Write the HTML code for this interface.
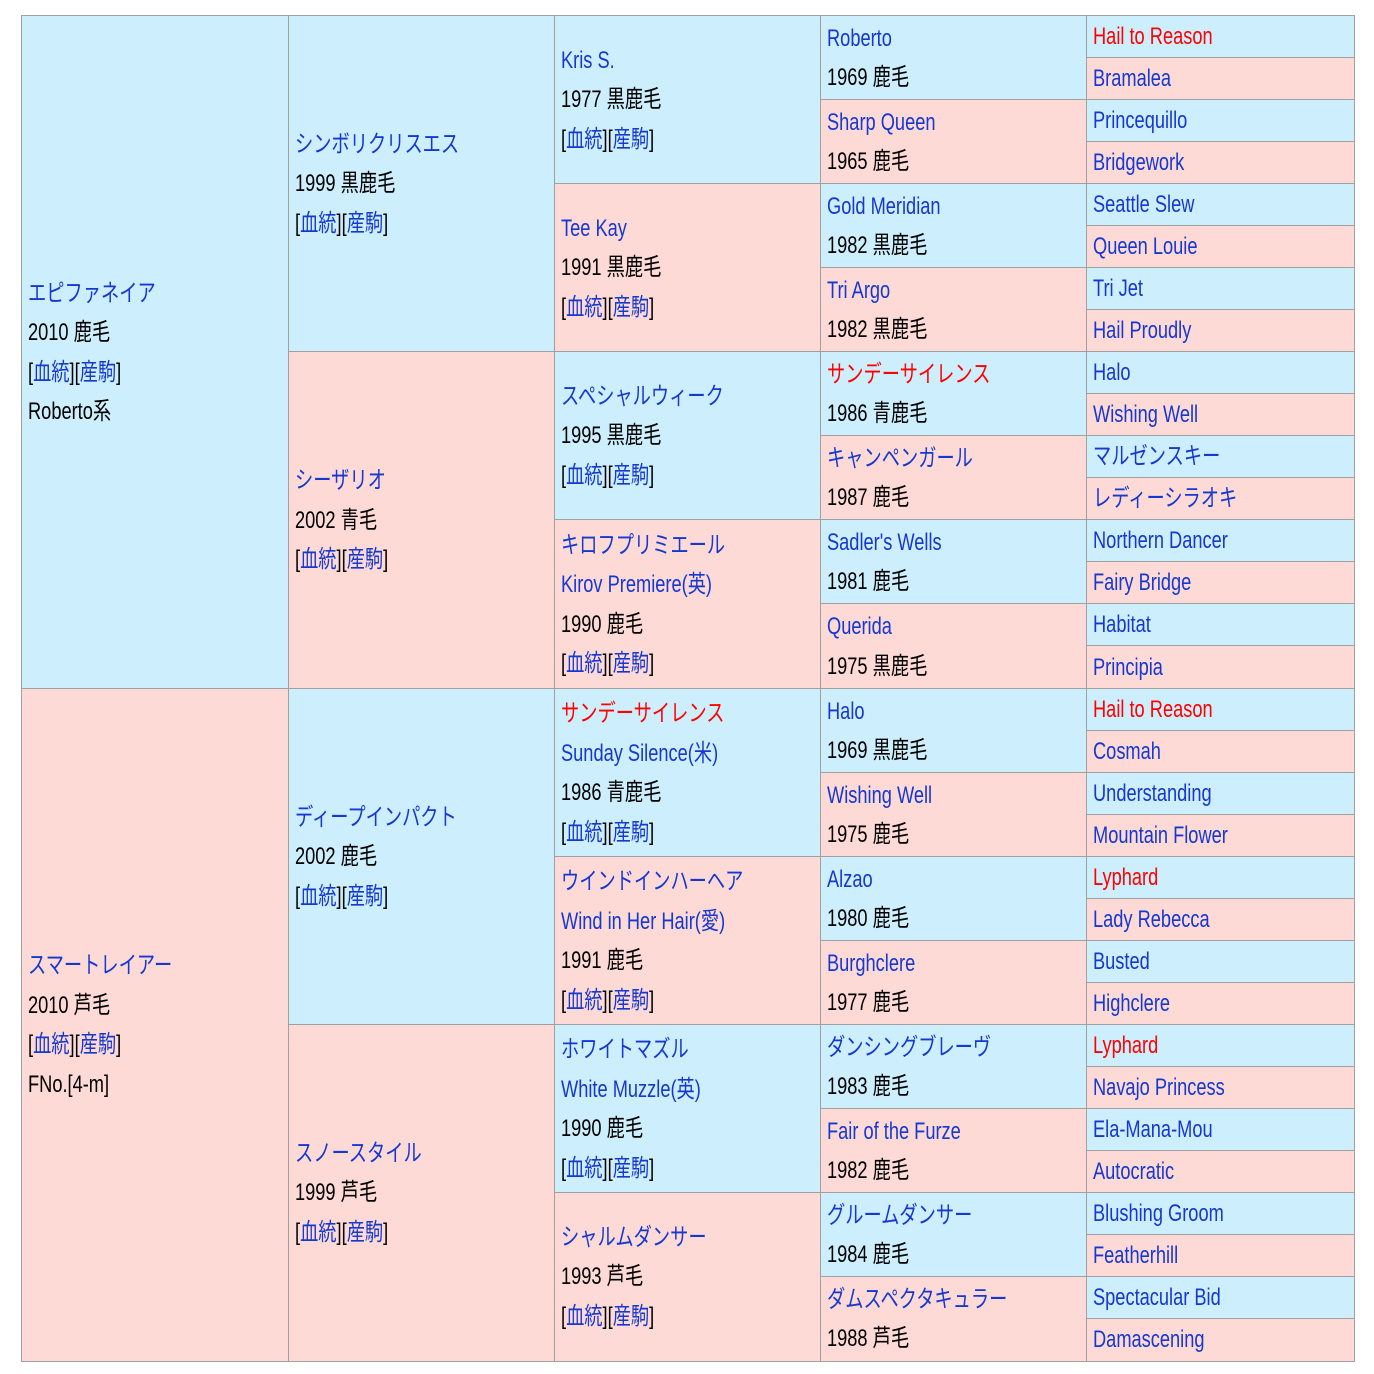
<!DOCTYPE html>
<html><head><meta charset="utf-8">
<style>
html,body{margin:0;padding:0;background:#fff;width:1374px;height:1374px;overflow:hidden}
.c{position:absolute;box-sizing:border-box;border:1px solid #a0a0a0;display:flex;flex-direction:column;justify-content:center;padding-left:6px;overflow:hidden}
.b{background:#cdeefd}.p{background:#fddad6}
.t{font-family:"Liberation Sans","Noto Sans CJK JP",sans-serif;font-size:24px;line-height:39.5px;color:#000;white-space:nowrap;transform:scaleX(0.76);transform-origin:left center}
.l{color:#1538d0}.r{color:#f00}
</style></head><body>
<div id="root"></div>
<script>
const X=[22,289,555,821,1087,1354];
const Y0=16,RH=(1361-16)/32;
const S='@';
function lines(arr){return arr.map(s=>{
 if(s==='@')return '[<span class="l">血統</span>][<span class="l">産駒</span>]';
 if(s[0]==='!')return '<span class="r">'+s.slice(1)+'</span>';
 if(s[0]==='*')return '<span class="l">'+s.slice(1)+'</span>';
 return s;}).map(h=>'<div class="t">'+h+'</div>').join('');}
const cols=[
 [['b',['*エピファネイア','2010 鹿毛',S,'Roberto系']],['p',['*スマートレイアー','2010 芦毛',S,'FNo.[4-m]']]],
 [['b',['*シンボリクリスエス','1999 黒鹿毛',S]],['p',['*シーザリオ','2002 青毛',S]],['b',['*ディープインパクト','2002 鹿毛',S]],['p',['*スノースタイル','1999 芦毛',S]]],
 [['b',['*Kris S.','1977 黒鹿毛',S]],['p',['*Tee Kay','1991 黒鹿毛',S]],['b',['*スペシャルウィーク','1995 黒鹿毛',S]],['p',['*キロフプリミエール','*Kirov Premiere(英)','1990 鹿毛',S]],
  ['b',['!サンデーサイレンス','*Sunday Silence(米)','1986 青鹿毛',S]],['p',['*ウインドインハーヘア','*Wind in Her Hair(愛)','1991 鹿毛',S]],['b',['*ホワイトマズル','*White Muzzle(英)','1990 鹿毛',S]],['p',['*シャルムダンサー','1993 芦毛',S]]],
 [['b',['*Roberto','1969 鹿毛']],['p',['*Sharp Queen','1965 鹿毛']],['b',['*Gold Meridian','1982 黒鹿毛']],['p',['*Tri Argo','1982 黒鹿毛']],
  ['b',['!サンデーサイレンス','1986 青鹿毛']],['p',['*キャンペンガール','1987 鹿毛']],['b',["*Sadler's Wells",'1981 鹿毛']],['p',['*Querida','1975 黒鹿毛']],
  ['b',['*Halo','1969 黒鹿毛']],['p',['*Wishing Well','1975 鹿毛']],['b',['*Alzao','1980 鹿毛']],['p',['*Burghclere','1977 鹿毛']],
  ['b',['*ダンシングブレーヴ','1983 鹿毛']],['p',['*Fair of the Furze','1982 鹿毛']],['b',['*グルームダンサー','1984 鹿毛']],['p',['*ダムスペクタキュラー','1988 芦毛']]],
 ['!Hail to Reason','*Bramalea','*Princequillo','*Bridgework','*Seattle Slew','*Queen Louie','*Tri Jet','*Hail Proudly',
  '*Halo','*Wishing Well','*マルゼンスキー','*レディーシラオキ','*Northern Dancer','*Fairy Bridge','*Habitat','*Principia',
  '!Hail to Reason','*Cosmah','*Understanding','*Mountain Flower','!Lyphard','*Lady Rebecca','*Busted','*Highclere',
  '!Lyphard','*Navajo Princess','*Ela-Mana-Mou','*Autocratic','*Blushing Groom','*Featherhill','*Spectacular Bid','*Damascening'].map((s,i)=>[i%2?'p':'b',[s]])
];
let h='';
cols.forEach((col,ci)=>{const span=32/col.length;col.forEach((cell,k)=>{
 const y1=Math.round(Y0+k*span*RH)-1, y2=Math.round(Y0+(k+1)*span*RH)+1;
 const x1=X[ci]-1,x2=X[ci+1]+1;
 h+=`<div class="c ${cell[0]}" style="left:${x1}px;top:${y1}px;width:${x2-x1}px;height:${y2-y1}px">${lines(cell[1])}</div>`;});});
document.getElementById('root').innerHTML=h;
</script>
</body></html>
